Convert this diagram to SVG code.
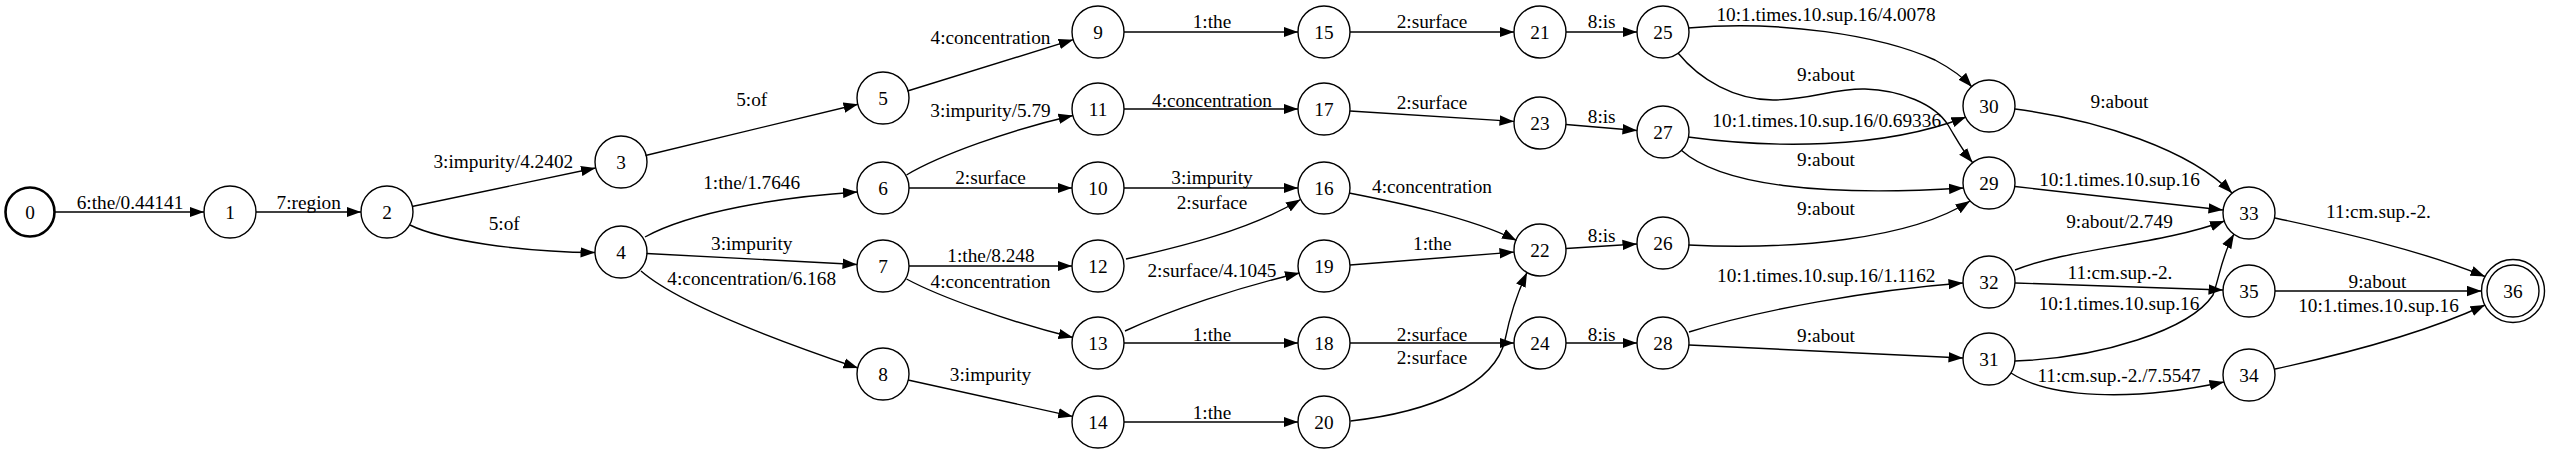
<svg xmlns="http://www.w3.org/2000/svg" width="2550" height="454" viewBox="0 0 2550 454">
<style>
text{font-family:"Liberation Serif","Times New Roman",serif;font-size:19.3px;fill:#000;text-anchor:middle}
.n circle{fill:none;stroke:#000;stroke-width:1.4}
.e path{fill:none;stroke:#000;stroke-width:1.4;marker-end:url(#ah)}
</style>
<defs>
<marker id="ah" markerUnits="userSpaceOnUse" viewBox="0 0 14.5 11" markerWidth="14.5" markerHeight="11" refX="14.5" refY="5.5" orient="auto">
<path d="M0,0.3 L14.5,5.5 L0,10.7 z" fill="#000"/>
</marker>
</defs>
<rect width="2550" height="454" fill="#fff"/>
<g id="connectors">
<g class="e"><path d="M54.5,212 L204,212"/><text x="130" y="209">6:the/0.44141</text></g>
<g class="e"><path d="M256,212 L361,212"/><text x="308.7" y="209">7:region</text></g>
<g class="e"><path d="M412,206.5 L595.5,168"/><text x="503.3" y="168">3:impurity/4.2402</text></g>
<g class="e"><path d="M410,225 C440,240 520,252 595,252.5"/><text x="504.2" y="230">5:of</text></g>
<g class="e"><path d="M645.5,155.5 L858,104.2"/><text x="751.7" y="106">5:of</text></g>
<g class="e"><path d="M645,237 C690,212 780,197 857.5,192"/><text x="751.7" y="189">1:the/1.7646</text></g>
<g class="e"><path d="M646.5,253.5 L857,264.5"/><text x="751.7" y="250">3:impurity</text></g>
<g class="e"><path d="M641,271 C680,305 790,345 858,368"/><text x="751.7" y="285">4:concentration/6.168</text></g>
<g class="e"><path d="M907.5,91 L1073.2,39.7"/><text x="990.5" y="44">4:concentration</text></g>
<g class="e"><path d="M906.5,175 C940,155 1010,130 1073,115.5"/><text x="990.5" y="117">3:impurity/5.79</text></g>
<g class="e"><path d="M909,188 L1072,188"/><text x="990.5" y="184">2:surface</text></g>
<g class="e"><path d="M909,266 L1072,266"/><text x="991" y="262">1:the/8.248</text></g>
<g class="e"><path d="M906.5,279 C940,297 1010,322 1073,337.5"/><text x="990.5" y="288">4:concentration</text></g>
<g class="e"><path d="M908,380 L1072.7,416.4"/><text x="990.5" y="381">3:impurity</text></g>
<g class="e"><path d="M1124,32 L1298,32"/><text x="1212" y="28">1:the</text></g>
<g class="e"><path d="M1124,109 L1298,109"/><text x="1212" y="106.5">4:concentration</text></g>
<g class="e"><path d="M1124,188 L1298,188"/><text x="1212" y="184">3:impurity</text></g>
<g class="e"><path d="M1126,259 C1180,247 1250,230 1300.5,199.5"/><text x="1212" y="209">2:surface</text></g>
<g class="e"><path d="M1125,331 C1170,310 1240,287 1299.5,273"/><text x="1212" y="276.5">2:surface/4.1045</text></g>
<g class="e"><path d="M1124,343 L1298,343"/><text x="1212" y="340.5">1:the</text></g>
<g class="e"><path d="M1124,422 L1298,422"/><text x="1212" y="419">1:the</text></g>
<g class="e"><path d="M1350,32 L1514,32"/><text x="1432" y="28.3">2:surface</text></g>
<g class="e"><path d="M1566,32 L1637,32"/><text x="1601.7" y="28.3">8:is</text></g>
<g class="e"><path d="M1350,111 L1514,121.4"/><text x="1432" y="109">2:surface</text></g>
<g class="e"><path d="M1566,124.5 L1637,130.5"/><text x="1601.7" y="123">8:is</text></g>
<g class="e"><path d="M1349,193 C1390,201 1470,217 1516.5,240.5"/><text x="1432" y="193">4:concentration</text></g>
<g class="e"><path d="M1350,265 L1514,252.1"/><text x="1432.3" y="250">1:the</text></g>
<g class="e"><path d="M1566,248.5 L1637,244"/><text x="1601.7" y="242">8:is</text></g>
<g class="e"><path d="M1350,343 L1514,343"/><text x="1432" y="340.5">2:surface</text></g>
<g class="e"><path d="M1566,343 L1637,343"/><text x="1601.7" y="340.5">8:is</text></g>
<g class="e"><path d="M1350.5,421 C1430,412 1495,385 1505,340 C1510,315 1516,296 1527,272.5"/><text x="1432" y="364">2:surface</text></g>
<g class="e"><path d="M1688,28 C1780,20 1880,35 1935,60 C1950,68 1962,76 1972,87"/><text x="1826" y="21">10:1.times.10.sup.16/4.0078</text></g>
<g class="e"><path d="M1678,53 C1700,80 1735,100 1773,100 C1810,100 1835,88 1865,89 C1900,90 1935,104 1948,125 C1956,138 1962,150 1972.5,162.5"/><text x="1826" y="81">9:about</text></g>
<g class="e"><path d="M1688,137 C1770,148 1880,150 1966,117"/><text x="1826.7" y="127">10:1.times.10.sup.16/0.69336</text></g>
<g class="e"><path d="M1681,150 C1720,185 1820,197 1963.5,188"/><text x="1826" y="166">9:about</text></g>
<g class="e"><path d="M1688.5,245 C1790,250 1910,240 1970,201"/><text x="1826" y="215">9:about</text></g>
<g class="e"><path d="M1689,332 C1760,310 1870,290 1963,283"/><text x="1826.3" y="282">10:1.times.10.sup.16/1.1162</text></g>
<g class="e"><path d="M1689,345 L1963,358"/><text x="1826" y="342">9:about</text></g>
<g class="e"><path d="M2015,109 C2100,120 2190,150 2232,193"/><text x="2119.5" y="108">9:about</text></g>
<g class="e"><path d="M2015,186.5 L2223,210"/><text x="2119.5" y="185.5">10:1.times.10.sup.16</text></g>
<g class="e"><path d="M2015,270 C2070,248 2160,245 2224.5,221"/><text x="2119.5" y="228">9:about/2.749</text></g>
<g class="e"><path d="M2015,283 L2223,290"/><text x="2120" y="279">11:cm.sup.-2.</text></g>
<g class="e"><path d="M2015,361 C2100,358 2190,330 2213,295 C2220,275 2222,255 2234,234"/><text x="2119" y="310">10:1.times.10.sup.16</text></g>
<g class="e"><path d="M2011,373 C2050,398 2130,402 2224,382"/><text x="2119" y="381.5">11:cm.sup.-2./7.5547</text></g>
<g class="e"><path d="M2275,218 C2340,232 2420,250 2485,276.5"/><text x="2378.5" y="218">11:cm.sup.-2.</text></g>
<g class="e"><path d="M2275,291 L2481.5,291"/><text x="2377.5" y="288">9:about</text></g>
<g class="e"><path d="M2275,369 C2340,355 2420,335 2485,305"/><text x="2378.5" y="312">10:1.times.10.sup.16</text></g>
</g>
<g id="node0" class="n"><circle cx="30" cy="212" r="24.5" style="stroke-width:2.6"/><text x="30" y="219">0</text></g>
<g id="node1" class="n"><circle cx="230" cy="212" r="26"/><text x="230" y="219">1</text></g>
<g id="node2" class="n"><circle cx="387" cy="212" r="26"/><text x="387" y="219">2</text></g>
<g id="node3" class="n"><circle cx="621" cy="162" r="26"/><text x="621" y="169">3</text></g>
<g id="node4" class="n"><circle cx="621" cy="252" r="26"/><text x="621" y="259">4</text></g>
<g id="node5" class="n"><circle cx="883" cy="98" r="26"/><text x="883" y="105">5</text></g>
<g id="node6" class="n"><circle cx="883" cy="188" r="26"/><text x="883" y="195">6</text></g>
<g id="node7" class="n"><circle cx="883" cy="266" r="26"/><text x="883" y="273">7</text></g>
<g id="node8" class="n"><circle cx="883" cy="374" r="26"/><text x="883" y="381">8</text></g>
<g id="node9" class="n"><circle cx="1098" cy="32" r="26"/><text x="1098" y="39">9</text></g>
<g id="node11" class="n"><circle cx="1098" cy="109" r="26"/><text x="1098" y="116">11</text></g>
<g id="node10" class="n"><circle cx="1098" cy="188" r="26"/><text x="1098" y="195">10</text></g>
<g id="node12" class="n"><circle cx="1098" cy="266" r="26"/><text x="1098" y="273">12</text></g>
<g id="node13" class="n"><circle cx="1098" cy="343" r="26"/><text x="1098" y="350">13</text></g>
<g id="node14" class="n"><circle cx="1098" cy="422" r="26"/><text x="1098" y="429">14</text></g>
<g id="node15" class="n"><circle cx="1324" cy="32" r="26"/><text x="1324" y="39">15</text></g>
<g id="node17" class="n"><circle cx="1324" cy="109" r="26"/><text x="1324" y="116">17</text></g>
<g id="node16" class="n"><circle cx="1324" cy="188" r="26"/><text x="1324" y="195">16</text></g>
<g id="node19" class="n"><circle cx="1324" cy="266" r="26"/><text x="1324" y="273">19</text></g>
<g id="node18" class="n"><circle cx="1324" cy="343" r="26"/><text x="1324" y="350">18</text></g>
<g id="node20" class="n"><circle cx="1324" cy="422" r="26"/><text x="1324" y="429">20</text></g>
<g id="node21" class="n"><circle cx="1540" cy="32" r="26"/><text x="1540" y="39">21</text></g>
<g id="node23" class="n"><circle cx="1540" cy="123" r="26"/><text x="1540" y="130">23</text></g>
<g id="node22" class="n"><circle cx="1540" cy="250" r="26"/><text x="1540" y="257">22</text></g>
<g id="node24" class="n"><circle cx="1540" cy="343" r="26"/><text x="1540" y="350">24</text></g>
<g id="node25" class="n"><circle cx="1663" cy="32" r="26"/><text x="1663" y="39">25</text></g>
<g id="node27" class="n"><circle cx="1663" cy="132" r="26"/><text x="1663" y="139">27</text></g>
<g id="node26" class="n"><circle cx="1663" cy="243" r="26"/><text x="1663" y="250">26</text></g>
<g id="node28" class="n"><circle cx="1663" cy="343" r="26"/><text x="1663" y="350">28</text></g>
<g id="node30" class="n"><circle cx="1989" cy="106" r="26"/><text x="1989" y="113">30</text></g>
<g id="node29" class="n"><circle cx="1989" cy="183" r="26"/><text x="1989" y="190">29</text></g>
<g id="node32" class="n"><circle cx="1989" cy="282" r="26"/><text x="1989" y="289">32</text></g>
<g id="node31" class="n"><circle cx="1989" cy="359" r="26"/><text x="1989" y="366">31</text></g>
<g id="node33" class="n"><circle cx="2249" cy="213" r="26"/><text x="2249" y="220">33</text></g>
<g id="node35" class="n"><circle cx="2249" cy="291" r="26"/><text x="2249" y="298">35</text></g>
<g id="node34" class="n"><circle cx="2249" cy="375" r="26"/><text x="2249" y="382">34</text></g>
<g id="node36" class="n"><circle cx="2513" cy="291" r="26"/><circle cx="2513" cy="291" r="31.5"/><text x="2513" y="298">36</text></g>
</svg>
